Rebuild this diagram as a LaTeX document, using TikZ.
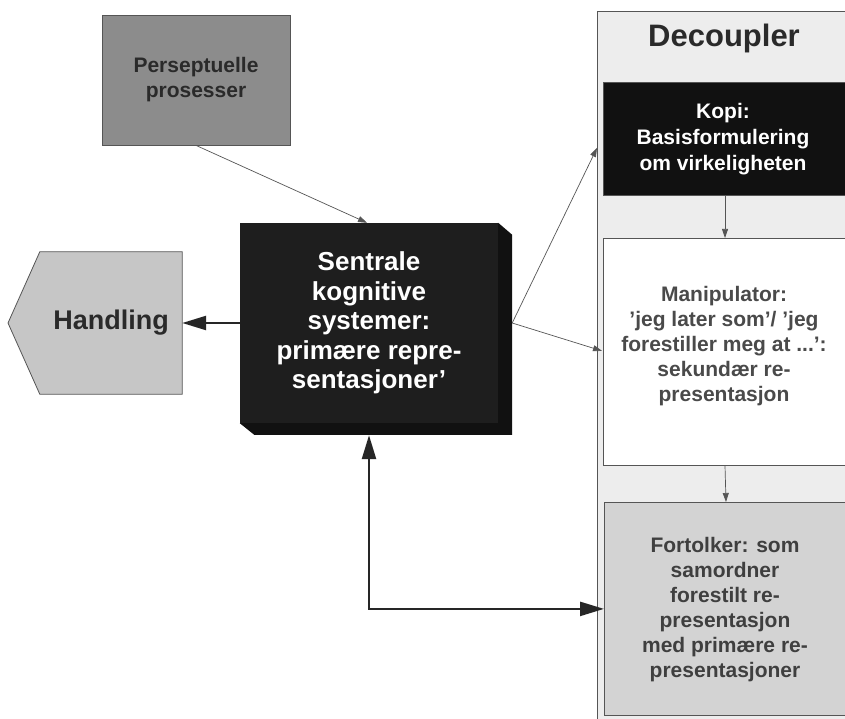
\documentclass[tikz,border=0pt]{standalone}
\usepackage{fontspec}
\setmainfont{Liberation Sans}
\usetikzlibrary{arrows.meta,calc}

\definecolor{persgray}{HTML}{8C8C8C}
\definecolor{handgray}{HTML}{C6C6C6}
\definecolor{decgray}{HTML}{EDEDED}
\definecolor{fortgray}{HTML}{D3D3D3}
\definecolor{boxdark}{HTML}{1E1E1E}
\definecolor{boxside}{HTML}{111111}
\definecolor{inkgray}{HTML}{2A2A2A}
\definecolor{edgegray}{HTML}{555555}

\tikzset{
  txt/.style={align=center, font=\bfseries},
  panel/.style={draw=edgegray, line width=0.8pt, rectangle, inner sep=0pt},
  thinarrow/.style={draw=edgegray, line width=0.7pt, -{Triangle[length=9pt,width=6pt]}},
  thickarrow/.style={draw=black!85, line width=2.4pt, -{Triangle[length=24pt,width=14pt]}},
  botharrow/.style={draw=black!85, line width=2.4pt, {Triangle[length=24pt,width=14pt]}-{Triangle[length=24pt,width=14pt]}},
}

\begin{document}
\begin{tikzpicture}[x=1pt,y=-1pt]
  \clip (0,0) rectangle (845,719);
  \fill[white] (0,0) rectangle (845,719);

  % Decoupler frame and its three stages
  \node[panel, fill=decgray, minimum width=260pt, minimum height=720pt, anchor=north west] (dec) at (597,11) {};
  \node[txt, text=inkgray, font=\fontsize{31}{34}\selectfont\bfseries] (dectitle) at (724,38) {Decoupler};

  \node[panel, fill=boxside, minimum width=250pt, minimum height=113pt, anchor=north west] (kopi) at (603,82) {};
  \node[txt, text=white, font=\fontsize{21}{26}\selectfont\bfseries] at (723,139)
    {Kopi:\\Basisformulering\\om virkeligheten};

  \node[panel, fill=white, minimum width=250pt, minimum height=227pt, anchor=north west] (manip) at (603,238) {};
  \node[txt, text=inkgray!85, font=\fontsize{21}{25}\selectfont\bfseries] at (724,346)
    {Manipulator:\\'jeg later som'/ 'jeg\\forestiller meg at ...':\\sekundær re-\\presentasjon};

  \node[panel, fill=fortgray, minimum width=250pt, minimum height=213pt, anchor=north west] (fort) at (604,502) {};
  \node[txt, text=inkgray!90, font=\fontsize{21}{25}\selectfont\bfseries] at (725,610)
    {Fortolker: som\\samordner\\forestilt re-\\presentasjon\\med primære re-\\presentasjoner};

  % Perceptual input
  \node[panel, fill=persgray, minimum width=188pt, minimum height=130pt, txt, text=inkgray,
        font=\fontsize{21}{25}\selectfont\bfseries] (pers) at (196,80) {Perseptuelle\\prosesser};

  % Central block with raised edges
  \node[rectangle, minimum width=258pt, minimum height=200pt, inner sep=0pt] (central) at (369,323) {};
  \fill[boxside] (central.north east) -- ++(14,12) -- ++(0,200) -- ++(-258,0) -- (central.south west) -- cycle;
  \fill[boxdark] (central.north west) rectangle (central.south east);
  \node[txt, text=white, font=\fontsize{26}{29.5}\selectfont\bfseries] at (central) 
    {Sentrale\\kognitive\\systemer:\\primære repre-\\sentasjoner'};
  \coordinate (ce) at ($(central.east)+(14,0)$);
  \coordinate (cb) at ($(central.south)+(0,12)$);

  % Action output
  \node[rectangle, minimum width=142pt, minimum height=142pt, inner sep=0pt] (hand) at (111,323) {};
  \coordinate (tip) at (8,323);
  \filldraw[fill=handgray, draw=edgegray, line width=0.8pt]
    (hand.north west) -- (hand.north east) -- (hand.south east) -- (hand.south west) -- (tip) -- cycle;
  \node[txt, text=inkgray, font=\fontsize{27}{30}\selectfont\bfseries] at (hand) {Handling};

  % Connectors
  \draw[thinarrow] (pers.south) -- ($(central.north)+(-2,0)$);
  \draw[thickarrow] (central.west) -- (hand.east);
  \draw[thinarrow] (ce) -- ($(kopi.west)+(-6,9)$);
  \draw[thinarrow] (ce) -- ($(manip.west)+(-1,-1)$);
  \draw[thinarrow] ($(kopi.south west)+(122,0)$) -- ($(manip.north west)+(122,0)$);
  \draw[thinarrow] ($(manip.south west)+(122,0)$) -- ($(fort.north west)+(122,0)$);
  \draw[botharrow] (cb) |- (fort.west);
\end{tikzpicture}
\end{document}
